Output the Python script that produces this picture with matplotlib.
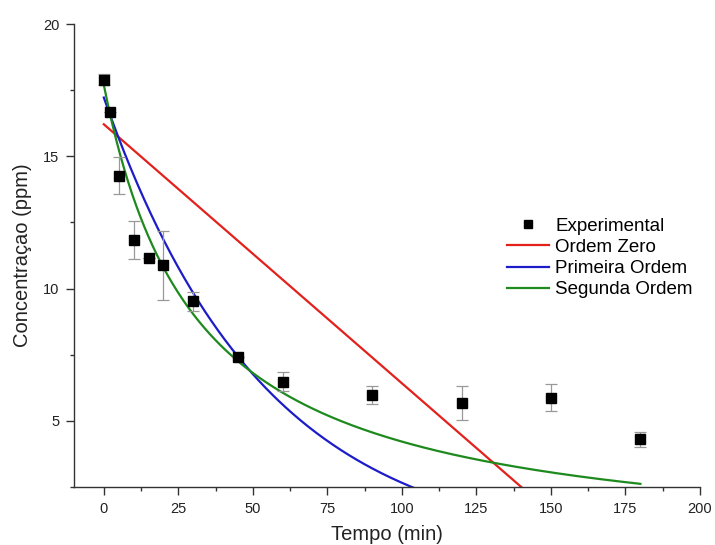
import numpy as np
import matplotlib
matplotlib.use("Agg")
import matplotlib.pyplot as plt
from matplotlib.ticker import MultipleLocator
from matplotlib.lines import Line2D

plt.rcParams["font.family"] = ["Liberation Sans", "DejaVu Sans"]

# Experimental concentrations (ppm) over time (min), with standard deviations
tempo = [0, 2, 5, 10, 15, 20, 30, 45, 60, 90, 120, 150, 180]
concentracao = [17.9, 16.67, 14.27, 11.82, 11.17, 10.88, 9.52, 7.43, 6.48, 5.97, 5.67, 5.88, 4.3]
desvio = [0.2, 0.0, 0.7, 0.72, 0.0, 1.31, 0.36, 0.0, 0.37, 0.33, 0.65, 0.5, 0.28]

# Kinetic model parameters
c0_zero, k_zero = 16.21, 0.0979           # C = C0 - k t
c0_primeira, k_primeira = 17.22, 0.01868  # C = C0 exp(-k t)
c0_segunda, k_segunda = 17.7, 0.001807    # 1/C = 1/C0 + k t

t = np.linspace(0, 180, 400)
c_zero = c0_zero - k_zero * t
c_primeira = c0_primeira * np.exp(-k_primeira * t)
c_segunda = 1.0 / (1.0 / c0_segunda + k_segunda * t)

cor_zero, cor_primeira, cor_segunda = "#e3211c", "#1c1cc8", "#1e8a1e"

fig = plt.figure(figsize=(7.15, 5.45), dpi=100)
ax = fig.add_axes([74 / 715, 1 - 487 / 545, 626 / 715, 463 / 545])

ax.plot(t, c_zero, color=cor_zero, lw=1.6, zorder=2)
ax.plot(t, c_primeira, color=cor_primeira, lw=1.6, zorder=2)
ax.plot(t, c_segunda, color=cor_segunda, lw=1.6, zorder=2)

ax.errorbar(tempo, concentracao, yerr=desvio, fmt="s", color="black",
            markersize=6.5, ecolor="#999999", elinewidth=0.9, capsize=4,
            capthick=0.9, zorder=3)

ax.set_xlim(-10, 200)
ax.set_ylim(2.5, 20)
ax.xaxis.set_major_locator(MultipleLocator(25))
ax.xaxis.set_minor_locator(MultipleLocator(12.5))
ax.yaxis.set_major_locator(MultipleLocator(5))
ax.yaxis.set_minor_locator(MultipleLocator(2.5))

for side in ("top", "right"):
    ax.spines[side].set_visible(False)
for side in ("left", "bottom"):
    ax.spines[side].set_color("#333333")
    ax.spines[side].set_linewidth(1.0)

ax.tick_params(which="major", direction="out", length=5.5, width=1.0, pad=5,
               colors="#333333", labelsize=10.5, labelcolor="#222222")
ax.tick_params(which="minor", direction="out", length=3.2, width=1.0, colors="#333333")

ax.set_xlabel("Tempo (min)", fontsize=14.5, color="#222222", labelpad=7)
ax.set_ylabel("Concentraçao (ppm)", fontsize=14.5, color="#222222", labelpad=8)

handles = [
    Line2D([], [], ls="none", marker="s", color="black", markersize=6),
    Line2D([], [], color=cor_zero, lw=1.6),
    Line2D([], [], color=cor_primeira, lw=1.6),
    Line2D([], [], color=cor_segunda, lw=1.6),
]
labels = ["Experimental", "Ordem Zero", "Primeira Ordem", "Segunda Ordem"]
ax.legend(handles, labels, loc="upper left", bbox_to_anchor=(0.692, 0.582),
          frameon=False, fontsize=13.5, handlelength=2.25, handletextpad=0.3,
          labelspacing=0.22, borderaxespad=0, borderpad=0)

fig.savefig("out.png", dpi=100)
